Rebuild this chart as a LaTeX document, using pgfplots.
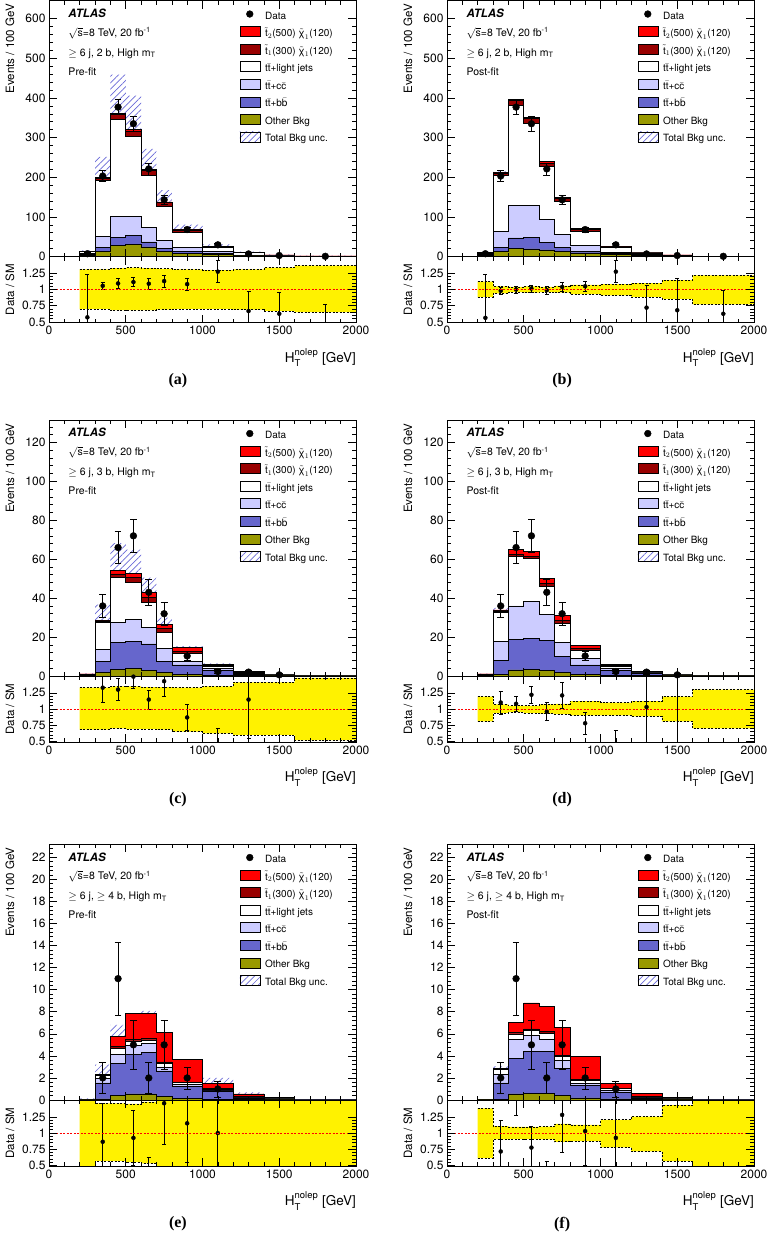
\documentclass[border=0pt]{standalone}
\usepackage{amsmath}
\usepackage{fontspec}
\setmainfont{TeX Gyre Heros}
\newfontfamily\labfont{Liberation Serif}
\usepackage{pgfplots}
\usepackage{pgfplotstable}
\pgfplotsset{compat=1.18}
\usepgfplotslibrary{fillbetween}
\usetikzlibrary{patterns.meta}

\definecolor{sigA}{RGB}{255,0,0}
\definecolor{sigB}{RGB}{153,0,0}
\definecolor{ttcc}{RGB}{204,204,255}
\definecolor{ttbb}{RGB}{102,102,204}
\definecolor{othb}{RGB}{153,153,0}
\definecolor{hatchc}{RGB}{105,105,215}
\definecolor{oneline}{RGB}{255,0,0}

% x: lower bin edge; o,b,c,l,s,t: cumulative stack (other, +bb, +cc, +light, +stop1, +stop2)
% hu,hl: total bkg uncertainty band; ru,rl: ratio band
\pgfplotstableread{
x o b c l s t hu hl ru rl
200 3 5 8 12 12.3 12.5 15.7 8.4 1.31 0.70
300 13 23 50 192 198 199 251.5 134.4 1.31 0.70
400 29 49 101 345 358 361 458.9 234.6 1.33 0.68
500 31 53 102 303 317 320 406 206 1.34 0.68
600 24 37 74 204 217 219 271.3 138.7 1.33 0.68
700 13.5 21 41 127 136 138 167.6 87.6 1.32 0.69
800 8.4 12.6 23.6 61.4 67 68 80.4 43 1.31 0.70
1000 6 9 13 23.5 24.5 25 30.6 16.5 1.30 0.70
1200 1.5 2.5 4 9.5 9.8 10 12.4 6.6 1.31 0.69
1400 0.6 1 1.6 4 4.1 4.2 5.4 2.7 1.34 0.67
1600 0.2 0.4 0.6 1.5 1.55 1.6 2.1 1.0 1.37 0.65
2000 0.2 0.4 0.6 1.5 1.55 1.6 2.1 1.0 1.37 0.65
}\tA
\pgfplotstableread{
x o b c l s t hu hl ru rl
200 3 5 7 10.5 10.8 11 11.8 9.3 1.12 0.885
300 12.6 23.6 64 204.5 211 213 214.7 192.2 1.05 0.94
400 21 47 128 381 393 397 396.2 365.8 1.04 0.96
500 19.4 48 128 335 348 352 351.8 318.3 1.05 0.95
600 16.8 36 93.4 227 236 240 236.1 217.9 1.04 0.96
700 12.6 23.6 55.6 139 147 150 146.9 132.1 1.057 0.95
800 9 13.5 27.8 64 68.5 70 68.5 59.5 1.07 0.93
1000 5 7 11 23.6 24.2 24.5 25.6 21.5 1.083 0.91
1200 1.8 3 4.5 9 9.3 9.5 9.9 8.0 1.10 0.885
1400 0.7 1.2 1.8 3.7 3.8 3.9 4.2 3.2 1.146 0.854
1600 0.2 0.4 0.7 0.8 0.85 0.9 1.0 0.6 1.22 0.77
2000 0.2 0.4 0.7 0.8 0.85 0.9 1.0 0.6 1.22 0.77
}\tB
\pgfplotstableread{
x o b c l s t hu hl ru rl
200 0.2 0.5 0.8 1.0 1.05 1.1 1.33 0.68 1.33 0.68
300 1.7 7.7 13.7 27.6 28.3 28.5 36.7 18.8 1.33 0.68
400 3.4 17.3 27.6 50.5 52.5 54.4 68.2 35.4 1.35 0.70
500 3.9 17.6 28.9 48.1 50.5 52.7 64.9 33.2 1.35 0.69
600 2.9 16.5 25 37.7 40.5 43 50.5 26.0 1.34 0.69
700 2.0 7.4 14.2 22.4 24.5 26.7 30.0 15.2 1.34 0.68
800 1.0 5.7 7.7 11.5 12.5 14.6 15.3 7.5 1.33 0.65
1000 0.5 2.8 4.0 4.8 5.3 6.0 6.5 3.0 1.35 0.625
1200 0.2 1.0 1.3 1.75 2.0 2.2 2.5 1.05 1.41 0.60
1400 0.05 0.3 0.4 0.6 0.65 0.7 0.85 0.36 1.41 0.60
1600 0.02 0.1 0.15 0.2 0.22 0.25 0.3 0.1 1.48 0.52
2000 0.02 0.1 0.15 0.2 0.22 0.25 0.3 0.1 1.48 0.52
}\tC
\pgfplotstableread{
x o b c l s t hu hl ru rl
200 0.2 0.5 0.8 1.0 1.05 1.1 1.19 0.81 1.19 0.81
300 1.0 8.2 17.6 32.7 33.4 34 35.0 30.7 1.07 0.94
400 3.1 18.8 36 61.5 62.5 65 64.6 58.4 1.05 0.95
500 3.4 19.4 38.5 60.4 61.5 63.9 63.4 56.8 1.05 0.94
600 2.8 18.1 31.6 45.9 47.5 50.2 49.1 42.7 1.07 0.93
700 2.0 9.9 17.3 27 28.5 31.3 29.2 24.8 1.08 0.92
800 1.0 5.7 9.1 13 14 15.9 14.6 11.7 1.12 0.90
1000 0.5 3.0 4.0 5.0 5.5 6.0 5.5 4.5 1.10 0.90
1200 0.2 1.2 1.6 1.95 2.2 2.5 2.2 1.7 1.12 0.885
1400 0.05 0.3 0.4 0.6 0.65 0.7 0.71 0.49 1.19 0.81
1600 0.02 0.1 0.15 0.2 0.22 0.25 0.26 0.14 1.30 0.70
2000 0.02 0.1 0.15 0.2 0.22 0.25 0.26 0.14 1.30 0.70
}\tD
\pgfplotstableread{
x o b c l s t hu hl ru rl
200 0.01 0.03 0.04 0.05 0.05 0.05 0.15 0 3 -1
300 0.1 1.55 1.95 2.2 2.25 2.35 3.2 1.25 1.46 0.57
400 0.42 3.33 4.15 4.67 4.85 5.73 6.8 2.66 1.46 0.57
500 0.55 4.15 4.95 5.35 5.5 7.88 7.76 2.94 1.45 0.55
600 0.55 4.35 5.1 5.45 5.6 7.88 8.07 2.89 1.48 0.53
700 0.3 2.64 3.0 3.33 3.45 6.12 6.0 0 3 -1
800 0.12 1.2 1.42 1.58 1.64 3.7 3.5 0 3 -1
1000 0.08 0.82 0.9 0.97 1.03 1.48 2.0 0 3 -1
1200 0.03 0.2 0.25 0.3 0.35 0.55 0.7 0 3 -1
1400 0.01 0.08 0.09 0.1 0.12 0.22 0.25 0 3 -1
1600 0 0.01 0.01 0.02 0.02 0.03 0.05 0 3 -1
2000 0 0.01 0.01 0.02 0.02 0.03 0.05 0 3 -1
}\tE
\pgfplotstableread{
x o b c l s t hu hl ru rl
200 0.01 0.03 0.04 0.05 0.05 0.05 0.07 0.03 1.38 0.615
300 0.08 1.55 2.35 2.75 2.78 2.85 3.04 2.48 1.105 0.90
400 0.55 3.75 5.5 6.0 6.15 7.05 6.57 5.43 1.095 0.905
500 0.6 4.4 5.85 6.3 6.45 8.8 6.9 5.7 1.095 0.905
600 0.6 4.42 5.46 6.06 6.2 8.45 6.67 5.45 1.10 0.90
700 0.4 2.85 3.6 3.95 4.05 6.55 4.5 3.42 1.14 0.865
800 0.2 1.33 1.52 1.8 1.85 3.95 2.03 1.58 1.125 0.875
1000 0.1 0.73 0.9 1.03 1.08 1.5 1.24 0.8 1.205 0.78
1200 0.03 0.2 0.25 0.3 0.35 0.57 0.38 0.21 1.255 0.715
1400 0.01 0.08 0.09 0.1 0.12 0.24 0.14 0.06 1.43 0.565
1600 0 0.01 0.01 0.02 0.02 0.03 0.06 0 3 -1
2000 0 0.01 0.01 0.02 0.02 0.03 0.06 0 3 -1
}\tF

% data: x, y (events/100 GeV), e, r (data/SM), re
\pgfplotstableread{
x y e r re
250 7 3 0.57 0.67
350 203 14 1.057 0.06
450 377 19 1.094 0.075
550 335 18 1.115 0.07
650 221 15 1.09 0.08
750 143 12 1.13 0.09
900 68 6 1.083 0.09
1100 29.5 4 1.276 0.17
1300 6.5 2 0.667 0.30
1500 2.5 1.2 0.625 0.33
1800 0.5 0.4 0.40 0.37
}\dA
\pgfplotstableread{
x y e r re
250 7 3 0.5625 0.68
350 203 14 0.98 0.05
450 377 19 1.0 0.05
550 335 18 1.015 0.05
650 221 15 0.99 0.06
750 143 12 1.04 0.07
900 68 6 1.05 0.08
1100 29.5 4 1.276 0.17
1300 6.5 2 0.72 0.35
1500 2.5 1.2 0.68 0.49
1800 0.5 0.4 0.625 0.37
}\dB
\pgfplotstableread{
x y e r re
350 36 6 1.33 0.22
450 66 8.2 1.30 0.17
550 72 8.5 1.50 0.18
650 43 6.6 1.146 0.15
750 32 5.7 1.43 0.23
900 10.3 2.3 0.87 0.2
1100 2.3 1.1 0.45 0.25
1300 2 1 1.146 0.6
1500 0.6 0.6 2.5 0.8
}\dC
\pgfplotstableread{
x y e r re
350 36 6 1.10 0.18
450 66 8.2 1.08 0.12
550 72 8.5 1.22 0.13
650 43 6.6 0.96 0.14
750 32 5.7 1.21 0.20
900 10.3 2.3 0.78 0.17
1100 2.3 1.1 0.45 0.23
1300 2 1 1.03 0.7
1500 0.6 0.6 0.3 1.5
}\dD
\pgfplotstableread{
x y e r re
350 2 1.41 0.865 0.6
450 11 3.32 2.3 0.7
550 5 2.24 0.925 0.42
650 2 1.41 0.37 0.26
750 5 2.24 1.46 0.64
900 2 1 1.15 0.6
1100 1 0.71 1.0 0.72
}\dE
\pgfplotstableread{
x y e r re
350 2 1.41 0.715 0.49
450 11 3.32 1.83 0.56
550 5 2.24 0.775 0.33
650 2 1.41 0.33 0.235
750 5 2.24 1.28 0.575
900 2 1 1.03 0.52
1100 1 0.71 0.925 0.66
}\dF

\pgfplotsset{
  every tick label/.append style={font=\fontsize{12}{14}\selectfont},
  /pgf/number format/assume math mode=true,
  /pgf/number format/1000 sep={},
  myhatch/.style={draw=none, pattern={Lines[angle=45,distance=4.5pt,line width=0.7pt]}, pattern color=hatchc},
  stk/.style={const plot, draw=black, line width=0.6pt, forget plot},
  datapts/.style={only marks, mark=*, black, mark options={fill=black, draw=black}, forget plot,
     error bars/y dir=both, error bars/y explicit,
     error bars/error bar style={line width=0.8pt, black}},
  bandedge/.style={const plot, black, line width=0.6pt, dash pattern=on 2pt off 1.5pt, forget plot},
  boxleg/.style={legend image code/.code={\draw[black,line width=0.5pt,fill=#1] (0pt,-2.5pt) rectangle (20pt,7.5pt);}},
  common/.style={width=307pt, scale only axis, xmin=0, xmax=2000,
     xtick={0,500,1000,1500,2000}, minor x tick num=4, minor y tick num=4,
     major tick length=8pt, minor tick length=4pt,
     axis line style={line width=0.7pt},
     every tick/.append style={line width=0.6pt, black}},
  mainax/.style={common, height=256pt, ymin=0, xticklabels={},
     ylabel={Events / 100 GeV},
     ylabel style={at={(axis description cs:-0.153,1)}, anchor=north east, font=\fontsize{11.5}{13}\selectfont},
     legend style={at={(axis description cs:0.62,0.962)}, anchor=north west, draw=none, fill=none,
        inner sep=0pt, row sep=4.8pt, column sep=5pt, font=\fontsize{10}{12}\selectfont,
        nodes={inner sep=0pt, text height=7.5pt, text depth=2.5pt}},
     legend cell align=left},
  ratioax/.style={common, height=66pt, ymin=0.49, ymax=1.51, ytick={0.5,0.75,1,1.25},
     axis on top,
     extra y ticks={1}, extra y tick labels={},
     extra y tick style={grid=major, major grid style={draw=oneline, line width=0.9pt, dash pattern=on 2pt off 1.5pt}},
     xlabel={$\text{H}_{\text{T}}^{\text{nolep}}$ [GeV]},
     xlabel style={at={(axis description cs:1,-0.39)}, anchor=north east, inner sep=0pt, font=\fontsize{13.5}{15}\selectfont},
     ylabel={Data / SM},
     ylabel style={at={(axis description cs:-0.153,0.5)}, anchor=north, font=\fontsize{11.5}{13}\selectfont}},
}

% #1 left x, #2 top y, #3 stack table, #4 data table, #5 ymax, #6 ytick step, #7 region, #8 fit, #9 label
\newcommand{\panel}[9]{%
\begin{axis}[mainax, name=main, at={(#1pt,-#2pt)}, anchor=north west, ymax=#5, ytick distance=#6]
  \addlegendimage{legend image code/.code={\fill[black] (10pt,2.5pt) circle (3.4pt);}}
  \addlegendentry{Data}
  \addlegendimage{boxleg=sigA}
  \addlegendentry{$\tilde{\text{t}}_{2}$(500) $\tilde{\text{χ}}_{1}$(120)}
  \addlegendimage{boxleg=sigB}
  \addlegendentry{$\tilde{\text{t}}_{1}$(300) $\tilde{\text{χ}}_{1}$(120)}
  \addlegendimage{boxleg=white}
  \addlegendentry{t$\bar{\text{t}}$+light jets}
  \addlegendimage{boxleg=ttcc}
  \addlegendentry{t$\bar{\text{t}}$+c$\bar{\text{c}}$}
  \addlegendimage{boxleg=ttbb}
  \addlegendentry{t$\bar{\text{t}}$+b$\bar{\text{b}}$}
  \addlegendimage{boxleg=othb}
  \addlegendentry{Other Bkg}
  \addlegendimage{legend image code/.code={\fill[pattern={Lines[angle=45,distance=4.5pt,line width=0.7pt]}, pattern color=hatchc] (0pt,-2.5pt) rectangle (20pt,7.5pt);}}
  \addlegendentry{Total Bkg unc.}
  \addplot[stk, fill=sigA] table[x=x,y=t]{#3} \closedcycle;
  \addplot[stk, fill=sigB] table[x=x,y=s]{#3} \closedcycle;
  \addplot[stk, fill=white] table[x=x,y=l]{#3} \closedcycle;
  \addplot[stk, fill=ttcc] table[x=x,y=c]{#3} \closedcycle;
  \addplot[stk, fill=ttbb] table[x=x,y=b]{#3} \closedcycle;
  \addplot[stk, fill=othb] table[x=x,y=o]{#3} \closedcycle;
  \addplot[const plot, draw=none, name path=hu, forget plot] table[x=x,y=hu]{#3};
  \addplot[const plot, draw=none, name path=hl, forget plot] table[x=x,y=hl]{#3};
  \addplot[myhatch, forget plot] fill between[of=hu and hl];
  \addplot[datapts, mark size=3.4pt] table[x=x,y=y,y error=e]{#4};
  \node[anchor=west, font=\fontsize{11.5}{13}\selectfont\bfseries\itshape] at (axis description cs:0.052,0.95) {ATLAS};
  \node[anchor=west, font=\fontsize{10.5}{12}\selectfont] at (axis description cs:0.052,0.873) {$\sqrt{\text{s}}$=8 TeV, 20 fb\textsuperscript{-1}};
  \node[anchor=west, font=\fontsize{10.5}{12}\selectfont] at (axis description cs:0.052,0.793) {#7};
  \node[anchor=west, font=\fontsize{10.5}{12}\selectfont] at (axis description cs:0.052,0.723) {#8};
\end{axis}
\begin{axis}[ratioax, at={(main.south west)}, anchor=north west,
    extra description/.code={\node[font=\labfont\fontsize{16}{18}\selectfont\bfseries] at (\labx,-0.88) {#9};}]
  \addplot[const plot, draw=none, name path=ru, forget plot] table[x=x,y=ru]{#3};
  \addplot[const plot, draw=none, name path=rl, forget plot] table[x=x,y=rl]{#3};
  \addplot[fill=yellow, draw=none, forget plot] fill between[of=ru and rl];
  \addplot[bandedge] table[x=x,y=ru]{#3};
  \addplot[bandedge] table[x=x,y=rl]{#3};
  \addplot[datapts, mark size=2pt] table[x=x,y=r,y error=re]{#4};
\end{axis}
}

\begin{document}
\begin{tikzpicture}[x=1pt,y=1pt]
\path (0,0) rectangle (767,-1237);
\def\labx{0.42}
\panel{49}{0.5}{\tA}{\dA}{646}{100}{$\geq$ 6 j, 2 b, High m\textsubscript{T}}{Pre-fit}{(a)}
\panel{49}{420}{\tC}{\dC}{131.5}{20}{$\geq$ 6 j, 3 b, High m\textsubscript{T}}{Pre-fit}{(c)}
\panel{49}{844}{\tE}{\dE}{23.2}{2}{$\geq$ 6 j, $\geq$ 4 b, High m\textsubscript{T}}{Pre-fit}{(e)}
\def\labx{0.375}
\panel{447}{0.5}{\tB}{\dB}{646}{100}{$\geq$ 6 j, 2 b, High m\textsubscript{T}}{Post-fit}{(b)}
\panel{447}{420}{\tD}{\dD}{131.5}{20}{$\geq$ 6 j, 3 b, High m\textsubscript{T}}{Post-fit}{(d)}
\panel{447}{844}{\tF}{\dF}{23.2}{2}{$\geq$ 6 j, $\geq$ 4 b, High m\textsubscript{T}}{Post-fit}{(f)}
\end{tikzpicture}
\end{document}
